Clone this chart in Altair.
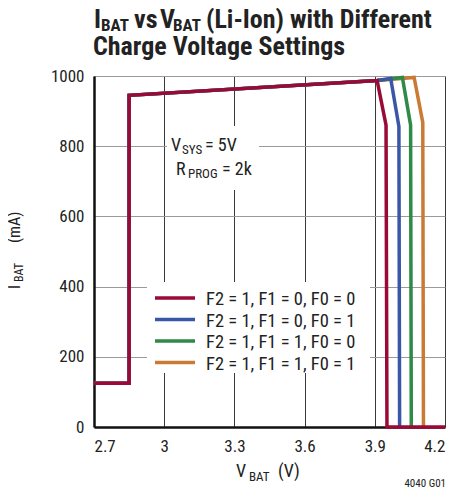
import altair as alt
import pandas as pd

# ---- data ----
v_common = [2.70, 2.85, 2.85, 3.91]
i_common = [125, 125, 945, 987]

series_names = ["F2 = 1, F1 = 0, F0 = 0", "F2 = 1, F1 = 0, F0 = 1",
                "F2 = 1, F1 = 1, F0 = 0", "F2 = 1, F1 = 1, F0 = 1"]
series_colors = ["#9A0A36", "#3A56A8", "#2E8A46", "#C97B36"]
tail_v = [
    [3.948, 3.952, 4.20],
    [3.968, 4.003, 4.006],
    [4.018, 4.053, 4.056],
    [4.068, 4.105, 4.108],
]
tail_i = [
    [860, 0, 0],
    [993, 856, 0],
    [996, 860, 0],
    [996, 868, 0],
]
x_ticks = [2.7, 3.0, 3.3, 3.6, 3.9, 4.2]
y_ticks = [0, 200, 400, 600, 800, 1000]

FONT = "Roboto Condensed"
TXT = "#222222"
W, H = 351, 351
OX, OY = 94, 76  # page position of plot origin


def frame(name, vs, cs):
    return pd.DataFrame({"V": vs, "I": cs, "k": list(range(len(vs))), "s": name})


x_scale = alt.Scale(domain=[2.7, 4.2], nice=False, zero=False)
y_scale = alt.Scale(domain=[0, 1000], nice=False)

one = pd.DataFrame({"a": [0]})


def txt(text, px, py, size, bold=False, align="left", baseline="alphabetic", angle=0, color=TXT):
    kw = dict(font=FONT, fontSize=size, align=align, baseline=baseline, color=color,
              fontWeight="bold" if bold else "normal")
    if angle:
        kw["angle"] = angle
    return alt.Chart(pd.DataFrame({"t": [text]})).mark_text(**kw).encode(
        text="t:N", x=alt.value(px - OX), y=alt.value(py - OY))


def box(x1, y1, x2, y2):
    return alt.Chart(one).mark_rect(color="white").encode(
        x=alt.value(x1 - OX), x2=alt.value(x2 - OX), y=alt.value(y1 - OY), y2=alt.value(y2 - OY))


# base with axes
base = alt.Chart(frame("base", v_common, i_common)).mark_line(opacity=0).encode(
    x=alt.X("V:Q", scale=x_scale, title=None,
            axis=alt.Axis(values=x_ticks, format="~g", grid=True, gridColor="#3a3a3a", gridWidth=1,
                          ticks=False, domain=True, domainColor="#111", domainWidth=2.5,
                          labelFont=FONT, labelFontSize=17, labelColor=TXT, labelPadding=11)),
    y=alt.Y("I:Q", scale=y_scale, title=None,
            axis=alt.Axis(values=y_ticks, format="d", grid=True, gridColor="#9a9a9a", gridWidth=1,
                          ticks=False, domain=True, domainColor="#111", domainWidth=2.5,
                          labelFont=FONT, labelFontSize=17, labelColor=TXT, labelPadding=10)),
)

layers = [base, box(167, 126, 259, 190), box(147, 282, 370, 373)]

# curves: orange first, red last (on top)
for idx in [3, 2, 1, 0]:
    df = frame(series_names[idx], v_common + tail_v[idx], i_common + tail_i[idx])
    layers.append(
        alt.Chart(df).mark_line(color=series_colors[idx], strokeWidth=3.5, strokeJoin="miter", strokeCap="butt").encode(
            x=alt.X("V:Q", scale=x_scale), y=alt.Y("I:Q", scale=y_scale), order="k:Q"))

# legend (manual, inside plot)
row_y = [298, 319.5, 341, 362.5]
for idx in range(4):
    layers.append(alt.Chart(one).mark_rule(color=series_colors[idx], strokeWidth=3.5).encode(
        x=alt.value(155 - OX), x2=alt.value(195 - OX), y=alt.value(row_y[idx] - OY)))
    layers.append(txt(series_names[idx], 206, row_y[idx] + 1, 18.5, baseline="middle"))

# annotation
layers += [
    txt("V", 171, 151, 18), txt("SYS", 182, 154, 13), txt("= 5V", 205, 151, 18),
    txt("R", 176, 175, 18), txt("PROG", 188, 178, 13), txt("= 2k", 222, 175, 18),
]

# title
layers += [
    txt("I", 94, 28, 26, bold=True), txt("BAT", 101, 31, 17, bold=True),
    txt("vs", 134, 28, 26, bold=True), txt("V", 160, 28, 26, bold=True),
    txt("BAT", 173, 31, 17, bold=True), txt("(Li-Ion) with Different", 206, 28, 26, bold=True),
    txt("Charge Voltage Settings", 93, 55, 26, bold=True),
]

# axis titles
layers += [
    txt("V", 236, 477, 18), txt("BAT", 249, 481, 13), txt("(V)", 278, 477, 18),
    txt("I", 20, 289, 16, angle=270), txt("BAT", 23, 282, 12, angle=270), txt("(mA)", 20, 243, 16, angle=270),
    txt("4040 G01", 446, 487, 11, align="right"),
]

chart = alt.layer(*layers).properties(
    width=W, height=H,
    autosize=alt.AutoSizeParams(type="none"),
    padding={"left": 86, "top": 68, "right": 4, "bottom": 62},
).configure_view(stroke="#111", strokeWidth=1.5).configure(background="white")

chart.save("out.html", embed_options={"renderer": "svg", "actions": False})
